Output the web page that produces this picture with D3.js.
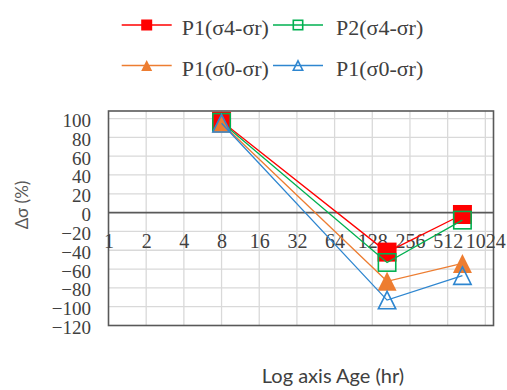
<!DOCTYPE html>
<html>
<head>
<meta charset="utf-8">
<script src="https://cdn.jsdelivr.net/npm/d3@7/dist/d3.min.js"></script>
<style>
  html, body { margin: 0; padding: 0; background: #fff; }
  svg { display: block; }
</style>
</head>
<body>
<svg id="chart" width="507" height="390"></svg>
<script>
// Stress change versus age (log2 time axis)
const ages = [8, 168, 672];
const xTicks = [1, 2, 4, 8, 16, 32, 64, 128, 256, 512, 1024];
const yTicks = [100, 80, 60, 40, 20, 0, -20, -40, -60, -80, -100, -120];

const seriesNames = ["P1(σ4-σr)", "P2(σ4-σr)", "P1(σ0-σr)", "P1(σ0-σr)"];
const p1Sigma4 = [97, -42, -2];
const p2Sigma4 = [96, -53, -8];
const p1Sigma0a = [95, -73, -54];
const p1Sigma0b = [95, -93, -67];

const series = [
  { name: seriesNames[0], values: p1Sigma4, color: "#ff0000", shape: "square", filled: true },
  { name: seriesNames[1], values: p2Sigma4, color: "#00b050", shape: "square", filled: false },
  { name: seriesNames[2], values: p1Sigma0a, color: "#ed7d31", shape: "triangle", filled: true },
  { name: seriesNames[3], values: p1Sigma0b, color: "#2e86d0", shape: "triangle", filled: false }
];

const svg = d3.select("#chart");
const plot = { left: 108.5, right: 493.5, top: 111, bottom: 325.5 };

const x = d3.scaleLog().base(2).domain([1, 1190]).range([plot.left, plot.right]);
const y = d3.scaleLinear().domain([-120, 108]).range([plot.bottom, plot.top]);

const serif = "'Liberation Serif', 'Times New Roman', serif";
const labelColor = "#404040";

// gridlines
const grid = svg.append("g");
grid.selectAll("line.v").data(xTicks.slice(1)).join("line")
  .attr("x1", d => x(d)).attr("x2", d => x(d))
  .attr("y1", plot.top).attr("y2", plot.bottom)
  .attr("stroke", "#d9d9d9").attr("stroke-width", 1.3);
grid.selectAll("line.h").data(yTicks.filter(d => d !== 0 && d !== -120)).join("line")
  .attr("x1", plot.left).attr("x2", plot.right)
  .attr("y1", d => y(d)).attr("y2", d => y(d))
  .attr("stroke", "#d9d9d9").attr("stroke-width", 1.3);

// plot border
svg.append("rect")
  .attr("x", plot.left).attr("y", plot.top)
  .attr("width", plot.right - plot.left).attr("height", plot.bottom - plot.top)
  .attr("fill", "none").attr("stroke", "#595959").attr("stroke-width", 1.6);

// y axis labels
const yAxis = d3.axisLeft(y).tickValues(yTicks).tickSize(0).tickPadding(0).tickFormat(d3.format("d"));
const yG = svg.append("g").attr("transform", `translate(${plot.left - 17.5},0)`).call(yAxis);
yG.select(".domain").remove();
yG.selectAll("text")
  .attr("font-family", serif).attr("font-size", 19).attr("fill", labelColor)
  .attr("dy", 8).attr("x", 0);

// x axis through zero
const xAxis = d3.axisBottom(x).tickValues(xTicks).tickSize(0).tickFormat(d3.format("d"));
const xG = svg.append("g").attr("transform", `translate(0,${y(0)})`).call(xAxis);
xG.select(".domain").remove();
xG.selectAll("text")
  .attr("font-family", serif).attr("font-size", 20).attr("fill", labelColor)
  .attr("y", 35).attr("dy", 0);

svg.append("line")
  .attr("x1", plot.left).attr("x2", plot.right)
  .attr("y1", y(0)).attr("y2", y(0))
  .attr("stroke", "#595959").attr("stroke-width", 1.8);

// series
const line = d3.line().x((d, i) => x(ages[i])).y(d => y(d));

function marker(g, s, cx, cy, size) {
  const sw = s.filled ? 0 : 1.6;
  const h = s.filled ? size : size - sw;
  if (s.shape === "square") {
    g.append("rect")
      .attr("x", cx - h / 2).attr("y", cy - h / 2)
      .attr("width", h).attr("height", h)
      .attr("fill", s.filled ? s.color : "none")
      .attr("stroke", s.filled ? "none" : s.color)
      .attr("stroke-width", sw);
  } else {
    const pts = [[cx, cy - h / 2], [cx + h / 2, cy + h / 2], [cx - h / 2, cy + h / 2]];
    g.append("path")
      .attr("d", "M" + pts.map(p => p.join(",")).join("L") + "Z")
      .attr("fill", s.filled ? s.color : "none")
      .attr("stroke", s.filled ? "none" : s.color)
      .attr("stroke-width", sw).attr("stroke-linejoin", "miter");
  }
}

series.forEach(s => {
  const g = svg.append("g");
  g.append("path").datum(s.values)
    .attr("d", line).attr("fill", "none")
    .attr("stroke", s.color).attr("stroke-width", 1.3);
  s.values.forEach((v, i) => marker(g, s, x(ages[i]), y(v), 19));
});

// legend
const legendPos = [
  { lx: 121.7, tx: 181.7, y: 25 },
  { lx: 273, tx: 336, y: 25 },
  { lx: 121.7, tx: 181.7, y: 65.5 },
  { lx: 273, tx: 336, y: 65.5 }
];
series.forEach((s, i) => {
  const p = legendPos[i];
  const g = svg.append("g");
  g.append("line")
    .attr("x1", p.lx).attr("x2", p.lx + 50)
    .attr("y1", p.y).attr("y2", p.y)
    .attr("stroke", s.color).attr("stroke-width", 1.3);
  marker(g, s, p.lx + 25, p.y, 11);
  g.append("text")
    .attr("x", p.tx).attr("y", p.y + 10)
    .attr("font-family", serif).attr("font-size", 22)
    .attr("fill", labelColor)
    .text(s.name);
});

// axis titles
svg.append("text")
  .attr("transform", "translate(28,205) rotate(-90)")
  .attr("text-anchor", "middle")
  .attr("font-family", "Lato, 'Open Sans', sans-serif")
  .attr("font-size", 17).attr("fill", "#595959")
  .text("Δσ (%)");

svg.append("text")
  .attr("x", 333).attr("y", 383)
  .attr("text-anchor", "middle")
  .attr("font-family", "Lato, 'Open Sans', sans-serif")
  .attr("font-size", 20).attr("fill", "#404040")
  .text("Log axis Age (hr)");
</script>
</body>
</html>
